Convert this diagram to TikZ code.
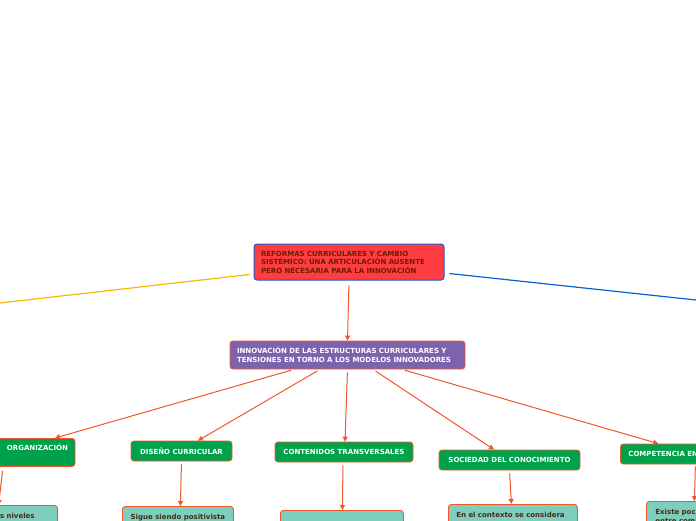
\documentclass[tikz,border=0pt]{standalone}
\usepackage{fontspec}
\setmainfont{DejaVu Sans}
\usetikzlibrary{arrows.meta}
\definecolor{orangeL}{HTML}{F0562A}
\definecolor{redF}{HTML}{FF3D40}
\definecolor{blueB}{HTML}{2058C8}
\definecolor{rootT}{HTML}{6E1A08}
\definecolor{purpleF}{HTML}{7D63AE}
\definecolor{greenF}{HTML}{00A14B}
\definecolor{tealF}{HTML}{7ECEC0}
\definecolor{leafT}{HTML}{4A2A10}
\definecolor{yellowL}{HTML}{F5B800}
\definecolor{blueL}{HTML}{0A5FD0}
\tikzset{
  rootbox/.style={draw=blueB, line width=1pt, fill=redF, rounded corners=3pt, text=rootT,
    text width=176pt, align=left, inner xsep=7pt, minimum height=36pt},
  mainbox/.style={draw=orangeL, line width=0.8pt, fill=purpleF, rounded corners=3pt, text=white,
    text width=221pt, align=left, inner xsep=7pt, minimum height=28pt},
  greenbox/.style={draw=orangeL, line width=0.8pt, fill=greenF, rounded corners=3pt, text=white,
    minimum height=20pt, inner xsep=6pt},
  leafbox/.style={draw=orangeL, line width=0.8pt, fill=tealF, rounded corners=3pt, text=leafT,
    text height=6pt, text depth=30pt, inner ysep=7.5pt},
  arr/.style={draw=orangeL, line width=1pt, -{Triangle[length=5pt,width=5pt]}},
}
\begin{document}
\begin{tikzpicture}[x=1pt,y=-1pt, font=\bfseries\fontsize{7}{8.5}\selectfont]
\useasboundingbox (0,0) rectangle (696,520);
\clip (0,0) rectangle (696,520);

\node[rootbox] (root) at (349,262) {REFORMAS CURRICULARES Y CAMBIO\\SISTÉMICO: UNA ARTICULACIÓN AUSENTE\\PERO NECESARIA PARA LA INNOVACIÓN};
\node[mainbox] (inno) at (347.5,355) {INNOVACIÓN DE LAS ESTRUCTURAS CURRICULARES Y\\TENSIONES EN TORNO A LOS MODELOS INNOVADORES};

\node[greenbox, anchor=north, minimum width=115pt, text width=101pt, align=right,
  text height=5pt, text depth=8pt, inner ysep=7.5pt, inner xsep=7pt] (org) at (17.5,438) {ORGANIZACIÓN};
\node[greenbox, minimum width=101pt] (dis) at (181.5,451) {DISEÑO CURRICULAR};
\node[greenbox, minimum width=138pt] (cont) at (344,452) {CONTENIDOS TRANSVERSALES};
\node[greenbox, minimum width=141pt] (soc) at (509.5,460) {SOCIEDAD DEL CONOCIMIENTO};
\node[greenbox, anchor=west, text width=100pt, align=left, inner xsep=8pt] (comp) at (620,454) {COMPETENCIA EN};

\node[leafbox, anchor=north east, minimum width=120pt, text width=104pt, align=right, inner xsep=8pt] (orgleaf) at (58,505) {s niveles\hspace*{15pt}};
\node[leafbox, anchor=north west, minimum width=111pt, inner xsep=3pt] (disleaf) at (122,506) {Sigue siendo positivista};
\node[leafbox, anchor=north west, minimum width=123pt, inner xsep=4pt] (contleaf) at (280,510) {};
\node[leafbox, anchor=north west, text width=113pt, align=left, inner xsep=8pt] (socleaf) at (448,504) {En el contexto se considera};
\node[leafbox, anchor=north west, text width=82pt, align=left, inner xsep=9pt] (compleaf) at (646,501) {Existe poca\\entre comp};

\coordinate (yend) at (0,303);
\coordinate (bend) at (696,300);
\draw[yellowL, line width=1.2pt, shorten <=4pt] ([yshift=-12pt]root.west) -- (yend);
\draw[blueL, line width=1.2pt, shorten <=5pt] ([yshift=-11pt]root.east) -- (bend);

\draw[arr, shorten <=5pt] (root.south) -- (inno.north);
\draw[arr, shorten <=3pt] ([xshift=-53.5pt]inno.south) -- ([xshift=37.5pt]org.north);
\draw[arr, shorten <=3pt] ([xshift=-27.5pt]inno.south) -- ([xshift=16.5pt]dis.north);
\draw[arr, shorten <=3pt] (inno.south) -- ([xshift=1pt]cont.north);
\draw[arr, shorten <=3pt] ([xshift=25.5pt]inno.south) -- ([xshift=-15.5pt]soc.north);
\draw[arr, shorten <=3pt] ([xshift=54.5pt]inno.south) -- ([xshift=-20pt]comp.north);

\draw[arr, shorten <=4pt] ([xshift=-14.5pt]org.south) -- ([xshift=1pt]orgleaf.north);
\draw[arr, shorten <=3pt] (dis.south) -- ([xshift=2.5pt]disleaf.north);
\draw[arr, shorten <=3pt] ([xshift=-1pt]cont.south) -- ([xshift=0.5pt]contleaf.north);
\draw[arr, shorten <=3pt] (soc.south) -- ([xshift=-1.5pt]socleaf.north);
\draw[arr, shorten <=2pt] ([xshift=17pt]comp.south) -- ([xshift=-2pt]compleaf.north);
\end{tikzpicture}
\end{document}
